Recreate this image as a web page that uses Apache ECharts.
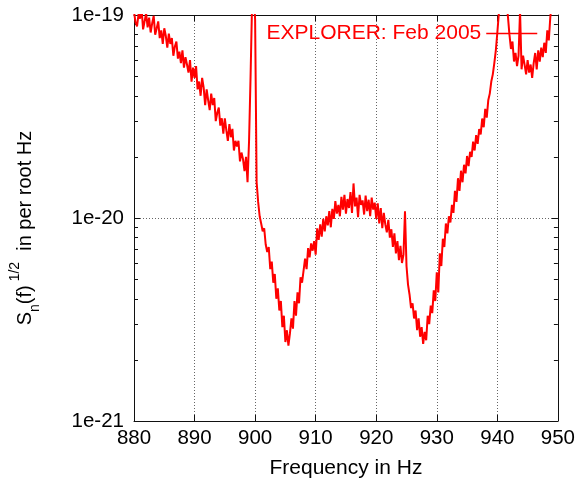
<!DOCTYPE html>
<html>
<head>
<meta charset="utf-8">
<script src="https://cdn.jsdelivr.net/npm/echarts@6/dist/echarts.min.js"></script>
<style>
  html, body { margin: 0; padding: 0; background: #fff; }
  #chart { width: 578px; height: 486px; }
</style>
</head>
<body>
<div id="chart"></div>
<script>
// frequency grid: 880 Hz upward in 0.25 Hz steps, one row per Hz
const FREQ_START = 880;
const FREQ_STEP = 0.25;
// strain noise in units of 1e-21 per root Hz
// (ECharts rounds to 20 decimals, so the axis works in these units)
const UNIT_EXP = -21;
const amplitude = [
  104, 92, 88, 101,        // 880
  96, 108, 85, 93,         // 881
  102, 87, 97, 82,         // 882
  91, 99, 80, 86,          // 883
  93, 77, 84, 72,          // 884
  86, 79, 69, 81,          // 885
  72, 77, 63, 70,          // 886
  74, 61, 66, 58,          // 887
  67, 55, 62, 57,          // 888
  52, 60, 47, 55,          // 889
  49, 56, 43, 47,          // 890
  40, 49, 44, 36,          // 891
  43, 38, 34, 41,          // 892
  36, 39, 30, 33,          // 893
  35, 28.5, 31, 26,        // 894
  31, 27, 24, 29,          // 895
  25, 27.5, 21.5, 24,      // 896
  22.5, 24, 19, 21,        // 897
  19.5, 17, 20, 15,        // 898
  24, 50, 115, 130,        // 899
  95, 15, 12, 10.2,        // 900
  9.4, 8.6, 8.9, 7.4,      // 901
  6.8, 7.2, 5.6, 6.1,      // 902
  4.8, 5.3, 4.0, 4.5,      // 903
  3.5, 3.9, 2.9, 3.3,      // 904
  2.45, 2.8, 2.35, 2.7,    // 905
  3.2, 2.85, 3.9, 3.3,     // 906
  4.3, 3.8, 5.1, 4.8,      // 907
  5.5, 6.3, 5.6, 7.1,      // 908
  6.4, 7.5, 6.9, 7.7,      // 909
  6.6, 8.9, 7.8, 9.3,      // 910
  8.1, 9.9, 8.6, 10.2,     // 911
  9.2, 10.8, 9.0, 11.1,    // 912
  9.9, 12.1, 10.5, 11.6,   // 913
  10.2, 12.7, 11.0, 13.0,  // 914
  10.5, 12.4, 11.2, 13.4,  // 915
  10.6, 14.8, 11.4, 12.6,  // 916
  10.1, 13.0, 11.6, 12.2,  // 917
  10.4, 12.9, 10.8, 12.3,  // 918
  10.2, 12.6, 11.0, 11.9,  // 919
  9.9, 11.8, 9.4, 11.2,    // 920
  8.9, 10.6, 9.3, 8.5,     // 921
  9.8, 8.0, 8.8, 7.2,      // 922
  8.4, 6.7, 7.7, 6.2,      // 923
  7.3, 6.0, 6.6, 10.8,     // 924
  5.8, 4.7, 4.2, 3.6,      // 925
  3.8, 3.2, 3.5, 2.8,      // 926
  3.2, 2.6, 2.9, 2.4,      // 927
  2.75, 2.5, 3.3, 3.0,     // 928
  3.7, 3.4, 4.4, 3.9,      // 929
  5.4, 4.3, 6.7, 5.8,      // 930
  7.9, 7.2, 9.4, 8.4,      // 931
  10.2, 9.5, 11.6, 10.6,   // 932
  13.6, 12.0, 15.7, 13.6,  // 933
  17.1, 15.0, 18.3, 16.6,  // 934
  20.2, 18.0, 21.2, 20.0,  // 935
  23.8, 21.5, 25.6, 23.2,  // 936
  27.4, 25.8, 30.9, 28.0,  // 937
  34.5, 31.2, 38.0, 41.0,  // 938
  47, 51, 58, 67,          // 939
  82, 102, 130, 150,       // 940
  160, 140, 120, 98,       // 941
  80, 68, 74, 59,          // 942
  65, 56, 63, 105,         // 943
  54, 63, 57, 51,          // 944
  60, 52, 57, 49,          // 945
  58, 65, 54, 67,          // 946
  59, 69, 62, 73,          // 947
  65, 84, 75, 98,          // 948
  115                      // 949
];

const xTicks = [880, 890, 900, 910, 920, 930, 940, 950];
// y range 1e-21 .. 1e-19 expressed in 1e-21 units
const yMin = 1;
const yMax = 100;
const yMinor = [2, 3, 4, 5, 6, 7, 8, 9, 20, 30, 40, 50, 60, 70, 80, 90];

const seriesName = "EXPLORER: Feb 2005";
const FONT = "'Liberation Sans', Arial, Helvetica, sans-serif";

const points = amplitude.map((a, i) => [FREQ_START + i * FREQ_STEP, a]);

const chart = echarts.init(document.getElementById("chart"), null, { renderer: "canvas" });

const gridDash = { color: "#666", type: [1, 2], width: 1 };
const frameLine = { show: true, lineStyle: { color: "#111", width: 1 } };

const logAxis = (extra) => Object.assign({
  type: "log",
  logBase: 10,
  min: yMin,
  max: yMax,
  axisLabel: { show: false },
  splitLine: { show: false },
  axisLine: { show: false },
  axisTick: { show: false }
}, extra);

const option = {
  animation: false,
  backgroundColor: "#fff",
  grid: { left: 131, right: 16, top: 15, bottom: 65 },
  legend: {
    data: [seriesName],
    right: 40,
    top: 23,
    padding: 0,
    align: "right",
    itemWidth: 51,
    itemHeight: 6,
    itemStyle: { opacity: 0 },
    lineStyle: { width: 1.5 },
    textStyle: { color: "#ff0000", fontSize: 21, fontFamily: FONT }
  },
  xAxis: [
    {
      type: "value",
      min: xTicks[0],
      max: xTicks[xTicks.length - 1],
      interval: 10,
      position: "bottom",
      name: "Frequency in Hz",
      nameLocation: "middle",
      nameGap: 37,
      nameTextStyle: { color: "#000", fontSize: 21, fontFamily: FONT },
      axisLine: frameLine,
      axisTick: { show: true, inside: true, length: 6, lineStyle: { color: "#111" } },
      axisLabel: { color: "#000", fontSize: 20.5, fontFamily: FONT, margin: 7 },
      splitLine: { show: true, lineStyle: gridDash }
    },
    {
      type: "value",
      min: xTicks[0],
      max: xTicks[xTicks.length - 1],
      interval: 10,
      position: "top",
      axisLine: frameLine,
      axisTick: { show: true, inside: true, length: 6, lineStyle: { color: "#111" } },
      axisLabel: { show: false },
      splitLine: { show: false }
    }
  ],
  yAxis: [
    logAxis({
      position: "left",
      name: "{a|S}{sub|n}{a|(f)}{sup| 1/2}{a|  in per root Hz}",
      nameLocation: "middle",
      nameGap: 92,
      nameTextStyle: {
        color: "#000",
        fontFamily: FONT,
        padding: [0, 20, 0, 0],
        rich: {
          a: { fontSize: 20, fontFamily: FONT, color: "#000", lineHeight: 34 },
          sub: { fontSize: 14, fontFamily: FONT, color: "#000", lineHeight: 34,
            verticalAlign: "bottom" },
          sup: { fontSize: 14, fontFamily: FONT, color: "#000", lineHeight: 34,
            verticalAlign: "top" }
        }
      },
      axisLine: frameLine,
      axisTick: { show: true, inside: true, length: 6, lineStyle: { color: "#111" } },
      axisLabel: {
        show: true, color: "#000", fontSize: 20.5, fontFamily: FONT, margin: 10,
        formatter: (v) => "1e" + (Math.round(Math.log10(v)) + UNIT_EXP)
      },
      splitLine: { show: true, lineStyle: gridDash }
    }),
    logAxis({
      position: "left",
      axisTick: { show: true, inside: true, length: 4, customValues: yMinor,
        lineStyle: { color: "#111" } }
    }),
    logAxis({
      position: "right",
      axisLine: frameLine,
      axisTick: { show: true, inside: true, length: 6, lineStyle: { color: "#111" } }
    }),
    logAxis({
      position: "right",
      axisTick: { show: true, inside: true, length: 4, customValues: yMinor,
        lineStyle: { color: "#111" } }
    })
  ],
  series: [
    {
      name: seriesName,
      type: "line",
      xAxisIndex: 0,
      yAxisIndex: 0,
      symbol: "none",
      clip: true,
      lineStyle: { color: "#ff0000", width: 2 },
      itemStyle: { color: "#ff0000" },
      data: points
    }
  ]
};

chart.setOption(option);
</script>
</body>
</html>
